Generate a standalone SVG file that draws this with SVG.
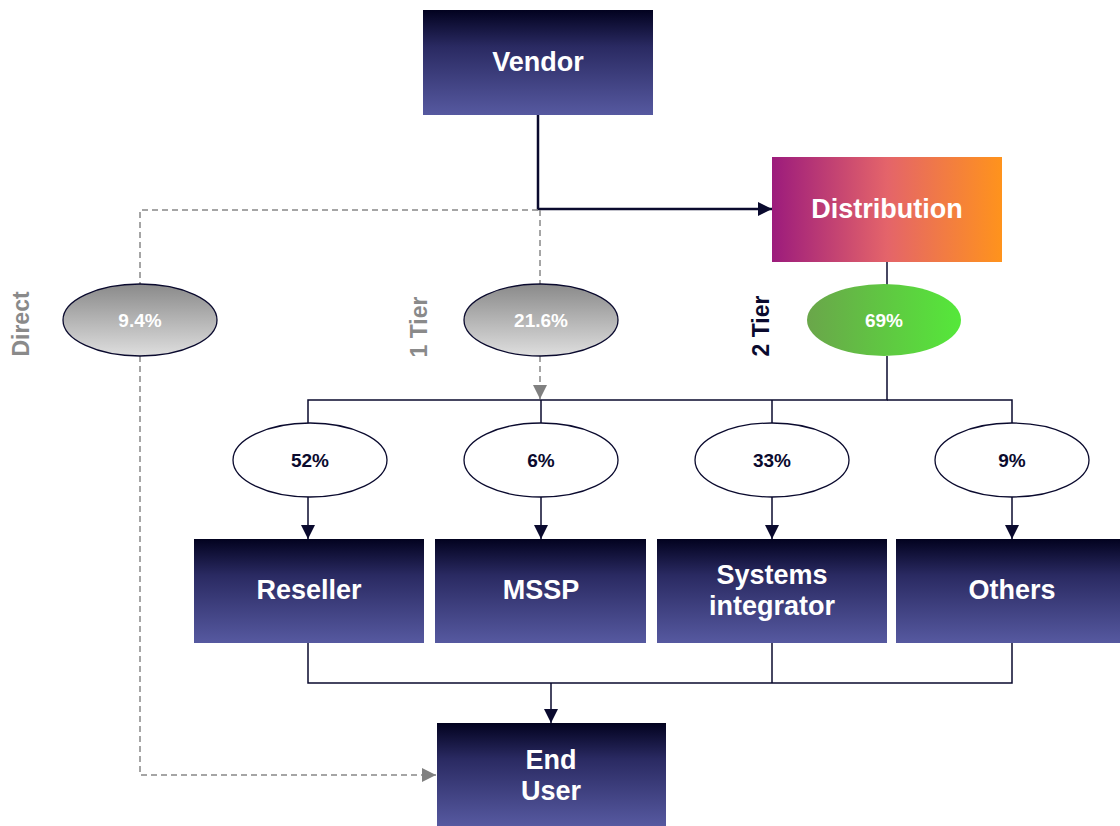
<svg xmlns="http://www.w3.org/2000/svg" width="1120" height="826" viewBox="0 0 1120 826">
  <defs>
    <linearGradient id="navy" x1="0" y1="0" x2="0" y2="1">
      <stop offset="0" stop-color="#02021f"/>
      <stop offset="0.35" stop-color="#2a2a62"/>
      <stop offset="1" stop-color="#5659a0"/>
    </linearGradient>
    <linearGradient id="sunset" x1="0" y1="0" x2="1" y2="0">
      <stop offset="0" stop-color="#9c1b7c"/>
      <stop offset="0.5" stop-color="#e4646a"/>
      <stop offset="1" stop-color="#ff931c"/>
    </linearGradient>
    <linearGradient id="green" x1="0" y1="0" x2="1" y2="0">
      <stop offset="0" stop-color="#6aa64a"/>
      <stop offset="1" stop-color="#55e83a"/>
    </linearGradient>
    <linearGradient id="grey" x1="0" y1="0" x2="0" y2="1">
      <stop offset="0" stop-color="#8a8a8a"/>
      <stop offset="1" stop-color="#dedede"/>
    </linearGradient>
    <marker id="arrowDark" viewBox="0 0 10 10" refX="10" refY="5" markerWidth="14" markerHeight="14" markerUnits="userSpaceOnUse" orient="auto">
      <path d="M0,0 L10,5 L0,10 Z" fill="#0a0a2e"/>
    </marker>
    <marker id="arrowGrey" viewBox="0 0 10 10" refX="10" refY="5" markerWidth="14" markerHeight="14" markerUnits="userSpaceOnUse" orient="auto">
      <path d="M0,0 L10,5 L0,10 Z" fill="#808080"/>
    </marker>
  </defs>
  <style>
    text { font-family: "Liberation Sans", Arial, sans-serif; font-weight: 700; text-anchor: middle; }
    .box-label { fill: #ffffff; font-size: 27px; }
    .pct { fill: #0a0a2e; font-size: 19px; }
    .pct-light { fill: #ffffff; font-size: 19px; }
    .tier { font-size: 23px; }
    .solid { fill: none; stroke: #0a0a2e; stroke-width: 1.5; }
    .solid-thick { fill: none; stroke: #0a0a2e; stroke-width: 2.5; }
    .dashed { fill: none; stroke: #888888; stroke-width: 1.5; stroke-dasharray: 6 4; }
    .bubble { fill: #ffffff; stroke: #0a0a2e; stroke-width: 1.3; }
  </style>

  <!-- connectors -->
  <g id="connectors">
    <path class="solid-thick" d="M538,115 V209 H772" marker-end="url(#arrowDark)"/>
    <path class="dashed" d="M538,210 H140 V285"/>
    <path class="dashed" d="M140,356 V775 H436" marker-end="url(#arrowGrey)"/>
    <path class="dashed" d="M540,210 V285"/>
    <path class="dashed" d="M540,356 V399" marker-end="url(#arrowGrey)"/>
    <path class="solid" d="M887,262 V285"/>
    <path class="solid" d="M887,356 V400 H308 V424"/>
    <path class="solid" d="M541,400 V424"/>
    <path class="solid" d="M772,400 V424"/>
    <path class="solid" d="M887,400 H1012 V424"/>
    <path class="solid" d="M308,497 V539" marker-end="url(#arrowDark)"/>
    <path class="solid" d="M541,497 V539" marker-end="url(#arrowDark)"/>
    <path class="solid" d="M772,497 V539" marker-end="url(#arrowDark)"/>
    <path class="solid" d="M1012,497 V539" marker-end="url(#arrowDark)"/>
    <path class="solid" d="M308,643 V683 H1012 V643"/>
    <path class="solid" d="M772,643 V683"/>
    <path class="solid" d="M551,683 V723" marker-end="url(#arrowDark)"/>
  </g>

  <!-- channel labels -->
  <text class="tier" fill="#8a8a8a" transform="translate(29,324) rotate(-90)">Direct</text>
  <text class="tier" fill="#8a8a8a" transform="translate(427,327) rotate(-90)">1 Tier</text>
  <text class="tier" fill="#0a0a2e" transform="translate(769,326) rotate(-90)">2 Tier</text>

  <g id="vendor">
    <rect x="423" y="10" width="230" height="105" fill="url(#navy)"/>
    <text class="box-label" x="538" y="71">Vendor</text>
  </g>

  <g id="distribution">
    <rect x="772" y="157" width="230" height="105" fill="url(#sunset)"/>
    <text class="box-label" x="887" y="218">Distribution</text>
  </g>

  <g id="share-direct">
    <ellipse cx="140" cy="320" rx="77" ry="36" fill="url(#grey)" stroke="#0a0a2e" stroke-width="1.3"/>
    <text class="pct-light" x="140" y="327">9.4%</text>
  </g>

  <g id="share-1tier">
    <ellipse cx="541" cy="320" rx="77" ry="36" fill="url(#grey)" stroke="#0a0a2e" stroke-width="1.3"/>
    <text class="pct-light" x="541" y="327">21.6%</text>
  </g>

  <g id="share-2tier">
    <ellipse cx="884" cy="320" rx="77" ry="36" fill="url(#green)"/>
    <text class="pct-light" x="884" y="327">69%</text>
  </g>

  <g id="share-reseller">
    <ellipse class="bubble" cx="310" cy="460" rx="77" ry="37"/>
    <text class="pct" x="310" y="467">52%</text>
  </g>
  <g id="share-mssp">
    <ellipse class="bubble" cx="541" cy="460" rx="77" ry="37"/>
    <text class="pct" x="541" y="467">6%</text>
  </g>
  <g id="share-si">
    <ellipse class="bubble" cx="772" cy="460" rx="77" ry="37"/>
    <text class="pct" x="772" y="467">33%</text>
  </g>
  <g id="share-others">
    <ellipse class="bubble" cx="1012" cy="460" rx="77" ry="37"/>
    <text class="pct" x="1012" y="467">9%</text>
  </g>

  <g id="reseller">
    <rect x="194" y="539" width="230" height="104" fill="url(#navy)"/>
    <text class="box-label" x="309" y="599">Reseller</text>
  </g>
  <g id="mssp">
    <rect x="435" y="539" width="211" height="104" fill="url(#navy)"/>
    <text class="box-label" x="541" y="599">MSSP</text>
  </g>
  <g id="systems-integrator">
    <rect x="657" y="539" width="230" height="104" fill="url(#navy)"/>
    <text class="box-label" x="772" y="584"><tspan x="772">Systems</tspan><tspan x="772" dy="31">integrator</tspan></text>
  </g>
  <g id="others">
    <rect x="896" y="539" width="224" height="104" fill="url(#navy)"/>
    <text class="box-label" x="1012" y="599">Others</text>
  </g>

  <g id="end-user">
    <rect x="437" y="723" width="229" height="103" fill="url(#navy)"/>
    <text class="box-label" x="551" y="769"><tspan x="551">End</tspan><tspan x="551" dy="31">User</tspan></text>
  </g>
</svg>
